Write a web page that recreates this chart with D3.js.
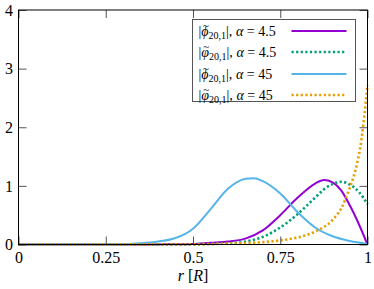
<!DOCTYPE html>
<html>
<head>
<meta charset="utf-8">
<script src="https://cdn.jsdelivr.net/npm/d3@7"></script>
<style>
  body { margin: 0; background: #fff; }
  svg { display: block; }
  svg text { font-family: "Liberation Serif", "DejaVu Serif", serif; }
</style>
</head>
<body>
<svg id="chart"></svg>
<script>
const W = 374;
const H = 289;
const margin = { top: 10, right: 6.5, bottom: 44.5, left: 18.5 };
const innerW = W - margin.left - margin.right;
const innerH = H - margin.top - margin.bottom;

// tick labels
const xTicks = [0, 0.25, 0.5, 0.75, 1];
const xTickLabels = ["0", "0.25", "0.5", "0.75", "1"];
const yTicks = [0, 1, 2, 3, 4];

// curves: [r, value]
const phiTilde45 = [
  [0, 0], [0.4, 0.002], [0.45, 0.005], [0.5, 0.01], [0.55, 0.03], [0.6, 0.05],
  [0.65, 0.1], [0.7, 0.24], [0.75, 0.5], [0.8, 0.8], [0.85, 1.04],
  [0.875, 1.1], [0.9, 1.06], [0.925, 0.92], [0.95, 0.66], [0.975, 0.35], [1, 0]
];
const varphiTilde45 = [
  [0, 0], [0.45, 0.002], [0.5, 0.005], [0.6, 0.02], [0.65, 0.05], [0.7, 0.13],
  [0.75, 0.29], [0.8, 0.52], [0.85, 0.8], [0.875, 0.94], [0.9, 1.03],
  [0.925, 1.07], [0.95, 1.02], [0.975, 0.9], [1, 0.69]
];
const phiTilde450 = [
  [0, 0], [0.3, 0.005], [0.35, 0.02], [0.4, 0.05], [0.45, 0.11], [0.5, 0.27],
  [0.55, 0.6], [0.6, 0.95], [0.625, 1.06], [0.65, 1.12], [0.675, 1.13],
  [0.7, 1.08], [0.75, 0.87], [0.8, 0.55], [0.85, 0.29], [0.9, 0.14],
  [0.95, 0.06], [1, 0.01]
];
const varphiTilde450 = [
  [0, 0], [0.5, 0.005], [0.6, 0.015], [0.65, 0.025], [0.7, 0.04], [0.75, 0.07],
  [0.8, 0.12], [0.85, 0.22], [0.9, 0.42], [0.925, 0.62], [0.95, 0.98],
  [0.96, 1.15], [0.97, 1.38], [0.98, 1.68], [0.99, 2.15], [1, 2.72]
];

const series = [
  { sym: "\u03D5", alpha: "4.5", data: phiTilde45, color: "#9400d3", dotted: false },
  { sym: "\u03C6", alpha: "4.5", data: varphiTilde45, color: "#009e73", dotted: true },
  { sym: "\u03D5", alpha: "45", data: phiTilde450, color: "#56b4e9", dotted: false },
  { sym: "\u03C6", alpha: "45", data: varphiTilde450, color: "#e69f00", dotted: true }
];

const svg = d3.select("#chart").attr("width", W).attr("height", H);
const g = svg.append("g").attr("transform", `translate(${margin.left},${margin.top})`);

const x = d3.scaleLinear().domain([0, 1]).range([0, innerW]);
const y = d3.scaleLinear().domain([0, 4]).range([innerH, 0]);

// Curves
const line = d3.line()
  .x(d => x(d[0]))
  .y(d => y(d[1]))
  .curve(d3.curveMonotoneX);

g.append("g")
  .selectAll("path")
  .data(series)
  .join("path")
  .attr("d", d => line(d.data))
  .attr("fill", "none")
  .attr("stroke", d => d.color)
  .attr("stroke-width", d => d.dotted ? 2.6 : 2)
  .attr("stroke-dasharray", d => d.dotted ? "2.2 2.4" : null);

// Axes (ticks point inward)
const xAxis = g.append("g")
  .attr("transform", `translate(0,${innerH})`)
  .call(d3.axisBottom(x).tickValues(xTicks).tickFormat((d, i) => xTickLabels[i]).tickSize(-8).tickPadding(7));
const xTop = g.append("g")
  .call(d3.axisTop(x).tickValues(xTicks).tickFormat("").tickSize(-8));
const yAxis = g.append("g")
  .call(d3.axisLeft(y).tickValues(yTicks).tickFormat(d3.format("d")).tickSize(-8).tickPadding(5.5));
const yRight = g.append("g")
  .attr("transform", `translate(${innerW},0)`)
  .call(d3.axisRight(y).tickValues(yTicks).tickFormat("").tickSize(-8));

[xAxis, xTop, yAxis, yRight].forEach(a => {
  a.attr("font-family", null);
  a.select(".domain").remove();
  a.selectAll(".tick line").attr("stroke", "#555");
  a.selectAll("text").attr("font-size", 16).attr("fill", "#000");
});

// Frame
g.append("rect")
  .attr("width", innerW)
  .attr("height", innerH)
  .attr("fill", "none")
  .attr("stroke", "#000")
  .attr("stroke-width", 1);

// x label
const xl = svg.append("text")
  .attr("x", margin.left + x(0.5))
  .attr("y", 281)
  .attr("text-anchor", "middle")
  .attr("font-size", 16);
xl.append("tspan").attr("font-style", "italic").text("r");
xl.append("tspan").text(" [");
xl.append("tspan").attr("font-style", "italic").text("R");
xl.append("tspan").text("]");

// Legend
const leg = svg.append("g").attr("transform", "translate(192.5,19.5)");
leg.append("rect")
  .attr("width", 163)
  .attr("height", 82)
  .attr("fill", "#fff")
  .attr("stroke", "#555")
  .attr("stroke-width", 1);

const rowY = [11.5, 32.5, 54.5, 75.5];
series.forEach((s, i) => {
  const base = rowY[i] + 5;
  const t = leg.append("text")
    .attr("x", 6)
    .attr("y", base)
    .attr("font-size", 14);
  t.append("tspan").text("|");
  t.append("tspan").attr("font-style", "italic").text(s.sym);
  t.append("tspan").attr("font-size", 10).attr("dy", 3).text("20,1");
  t.append("tspan").attr("dy", -3).text("|, ");
  t.append("tspan").attr("font-style", "italic").text("\u03B1");
  t.append("tspan").text(" = " + s.alpha);

  // tilde over the phi
  const node = t.node();
  const x0 = node.getStartPositionOfChar(1).x;
  const x1 = node.getEndPositionOfChar(1).x;
  leg.append("text")
    .attr("x", (x0 + x1) / 2 + 1)
    .attr("y", base - 7)
    .attr("text-anchor", "middle")
    .attr("font-size", 11)
    .text("~");

  leg.append("line")
    .attr("x1", 99)
    .attr("x2", 154)
    .attr("y1", rowY[i])
    .attr("y2", rowY[i])
    .attr("stroke", s.color)
    .attr("stroke-width", s.dotted ? 2.6 : 2)
    .attr("stroke-dasharray", s.dotted ? "2.2 2.4" : null);
});
</script>
</body>
</html>
